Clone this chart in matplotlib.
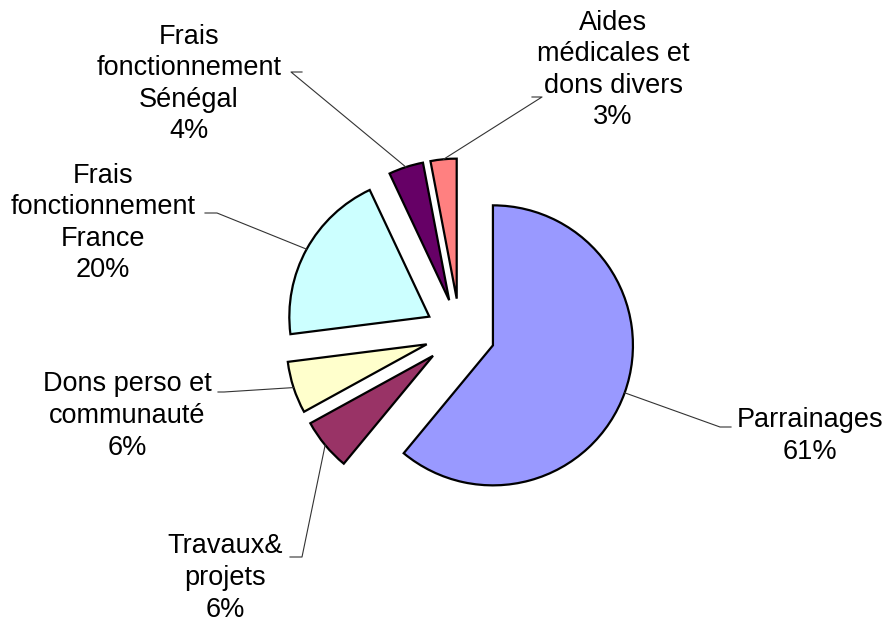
import matplotlib
matplotlib.use("Agg")
import matplotlib.pyplot as plt
import numpy as np

plt.rcParams['font.family'] = ['Liberation Sans', 'DejaVu Sans']

# data
labels = ["Parrainages", "Travaux&\nprojets", "Dons perso et\ncommunauté",
          "Frais\nfonctionnement\nFrance", "Frais\nfonctionnement\nSénégal",
          "Aides\nmédicales et\ndons divers"]
values = [61, 6, 6, 20, 4, 3]
colors = ['#9999FF', '#993366', '#FFFFCC', '#CCFFFF', '#660066', '#FF8080']

W, H = 888, 628
center = (460, H - 333.5)
radius = 140
explode = 35  # pie() takes explode in data units

# label block centres and leader elbows (pixel coords, y down)
label_pos = [(810, 436), (225, 578), (127, 416), (103, 223), (189, 84), (613, 70)]
elbow = [(720, 427, 731), (302, 557, 290), (224, 392, 218), (217, 213, 205),
         (291, 72, 302), (542, 97, 532)]

fig = plt.figure(figsize=(W / 100, H / 100), dpi=100)
ax = fig.add_axes([0, 0, 1, 1])

wedges, _ = ax.pie(values, colors=colors, startangle=90, counterclock=False,
                   explode=[explode] * len(values), radius=radius, center=center,
                   wedgeprops=dict(edgecolor='black', linewidth=1.6))

# pie() resets limits, set them afterwards
ax.set_xlim(0, W)
ax.set_ylim(0, H)
ax.set_aspect('equal')
ax.axis('off')

total = float(sum(values))
for i, w in enumerate(wedges):
    mid = np.deg2rad((w.theta1 + w.theta2) / 2)
    cx, cy = w.center
    px = cx + radius * np.cos(mid)
    py = cy + radius * np.sin(mid)
    ex, ey, hx = elbow[i]
    ax.plot([px, ex, hx], [py, H - ey, H - ey], color='#333333', lw=0.8)
    tx, ty = label_pos[i]
    ax.text(tx, H - ty, "%s\n%d%%" % (labels[i], round(values[i] / total * 100)),
            ha='center', va='center', multialignment='center',
            fontsize=19.5, linespacing=1.28, color='black')

fig.savefig("out.png", dpi=100)
